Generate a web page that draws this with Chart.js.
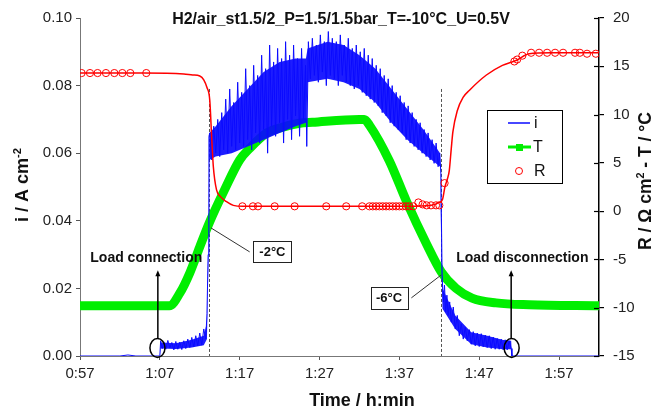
<!DOCTYPE html>
<html>
<head>
<meta charset="utf-8">
<script src="https://cdn.jsdelivr.net/npm/chart.js@4.4.1/dist/chart.umd.min.js"></script>
<style>
html,body{margin:0;padding:0;background:#fff;}
#wrap{width:654px;height:411px;position:relative;}
</style>
</head>
<body>
<div id="wrap"><canvas id="c" width="654" height="411"></canvas></div>
<script>
// ---------- DATA ----------
const chartTitle = 'H2/air_st1.5/2_P=1.5/1.5bar_T=-10°C_U=0.5V';
const xTicks = [57, 67, 77, 87, 97, 107, 117];
const xTickLabels = ['0:57', '1:07', '1:17', '1:27', '1:37', '1:47', '1:57'];
const yTicks = [0, 0.02, 0.04, 0.06, 0.08, 0.10];
const y2Ticks = [-15, -10, -5, 0, 5, 10, 15, 20];

// current density i (A cm-2) vs time (min): sampled noisy trace
const iTime = [
 57, 62, 63, 64, 66.9, 67.0, 67.1, 67.3, 67.5, 67.75,
 68.0, 68.25, 68.5, 68.75, 69.0, 69.25, 69.5, 69.75, 70.0, 70.25,
 70.5, 70.75, 71.0, 71.25, 71.5, 71.75, 72.0, 72.25, 72.5, 72.75,
 72.9, 73.05, 73.15, 73.25, 73.5, 73.75, 74.0, 74.25, 74.5, 74.75,
 75.0, 75.25, 75.5, 75.75, 76.0, 76.25, 76.5, 76.75, 77.0, 77.25,
 77.5, 77.75, 78.0, 78.25, 78.5, 78.75, 79.0, 79.25, 79.5, 79.75,
 80.0, 80.25, 80.5, 80.75, 81.0, 81.25, 81.5, 81.75, 82.0, 82.25,
 82.5, 82.75, 83.0, 83.25, 83.5, 83.75, 84.0, 84.25, 84.5, 84.75,
 85.0, 85.25, 85.4, 85.6, 85.85, 86.1, 86.35, 86.6, 86.85, 87.1,
 87.35, 87.6, 87.85, 88.1, 88.35, 88.6, 88.85, 89.1, 89.35, 89.6,
 89.85, 90.1, 90.35, 90.6, 90.85, 91.1, 91.35, 91.6, 91.85, 92.1,
 92.35, 92.6, 92.85, 93.1, 93.35, 93.6, 93.85, 94.1, 94.35, 94.6,
 94.85, 95.1, 95.35, 95.6, 95.85, 96.1, 96.35, 96.6, 96.85, 97.1,
 97.35, 97.6, 97.85, 98.1, 98.35, 98.6, 98.85, 99.1, 99.35, 99.6,
 99.85, 100.1, 100.35, 100.6, 100.85, 101.1, 101.35, 101.6, 101.85, 102.05,
 102.2, 102.35, 102.5, 102.65, 102.8, 102.95, 103.1, 103.3, 103.5, 103.75,
 104.0, 104.25, 104.5, 104.75, 105.0, 105.25, 105.5, 105.75, 106.0, 106.25,
 106.5, 106.75, 107.0, 107.25, 107.5, 107.75, 108.0, 108.25, 108.5, 108.75,
 109.0, 109.25, 109.5, 109.75, 110.0, 110.25, 110.5, 110.75, 111.0, 111.1,
 122
];
const iCurrent = [
 0, 0, 0.0003, 0, 0, 0.0002, 0.0045, 0.0022, 0.0042, 0.002,
 0.0046, 0.0024, 0.004, 0.0018, 0.0043, 0.002, 0.0041, 0.0019, 0.0045, 0.0022,
 0.005, 0.0025, 0.0055, 0.0027, 0.006, 0.003, 0.0068, 0.0032, 0.008, 0.005,
 0.0125, 0.03, 0.065, 0.066, 0.058, 0.068, 0.060, 0.070, 0.059, 0.072,
 0.061, 0.076, 0.060, 0.079, 0.062, 0.075, 0.061, 0.081, 0.063, 0.078,
 0.062, 0.085, 0.064, 0.080, 0.061, 0.086, 0.066, 0.083, 0.063, 0.089,
 0.067, 0.085, 0.060, 0.092, 0.068, 0.087, 0.065, 0.091, 0.069, 0.088,
 0.063, 0.093, 0.070, 0.089, 0.064, 0.092, 0.071, 0.088, 0.065, 0.091,
 0.070, 0.086, 0.062, 0.093, 0.082, 0.094, 0.083, 0.092, 0.081, 0.095,
 0.084, 0.093, 0.080, 0.096, 0.083, 0.094, 0.082, 0.093, 0.080, 0.095,
 0.083, 0.092, 0.081, 0.094, 0.080, 0.091, 0.079, 0.092, 0.080, 0.090,
 0.078, 0.091, 0.077, 0.089, 0.076, 0.088, 0.075, 0.086, 0.074, 0.085,
 0.072, 0.083, 0.071, 0.082, 0.069, 0.080, 0.068, 0.078, 0.067, 0.077,
 0.066, 0.075, 0.064, 0.074, 0.063, 0.072, 0.062, 0.070, 0.061, 0.069,
 0.060, 0.067, 0.059, 0.066, 0.058, 0.064, 0.057, 0.063, 0.056, 0.060,
 0.054, 0.024, 0.016, 0.021, 0.013, 0.018, 0.012, 0.016, 0.010, 0.0145,
 0.008, 0.012, 0.006, 0.0095, 0.005, 0.0085, 0.0045, 0.0078, 0.0035, 0.0072,
 0.003, 0.0068, 0.0028, 0.0066, 0.0027, 0.0062, 0.0025, 0.006, 0.0022, 0.0056,
 0.002, 0.0052, 0.002, 0.005, 0.0018, 0.0048, 0.0018, 0.0045, 0.0022, 0,
 0
];

// dense core of the noisy current signal (lower / upper envelope)
const envTime = [57, 67.0, 67.1, 69, 71, 72.5, 72.9, 73.1, 73.2, 74, 76, 78, 80, 82, 84, 85.3, 85.5, 88, 90, 92, 94, 96, 98, 100, 102.1, 102.25, 102.4, 104, 106, 108, 110, 111.0, 111.1, 122];
const envLow  = [0, 0, 0.0022, 0.0021, 0.0025, 0.0032, 0.005, 0.03, 0.058, 0.059, 0.060, 0.062, 0.064, 0.066, 0.068, 0.069, 0.081, 0.082, 0.081, 0.079, 0.075, 0.069, 0.064, 0.060, 0.056, 0.03, 0.014, 0.008, 0.0035, 0.0025, 0.002, 0.002, 0, 0];
const envHigh = [0, 0, 0.004, 0.0038, 0.0048, 0.006, 0.010, 0.04, 0.066, 0.068, 0.074, 0.079, 0.084, 0.087, 0.088, 0.088, 0.091, 0.093, 0.092, 0.089, 0.085, 0.079, 0.073, 0.067, 0.060, 0.04, 0.020, 0.012, 0.007, 0.006, 0.0047, 0.0045, 0, 0];

// temperature T (°C)
const tTime = [57, 68.2, 69.5, 70.75, 72, 73.25, 75.1, 77, 78.25, 80.4, 82.4, 84.5, 86.1, 92, 92.6, 93.25, 95.75, 97.9, 100.4, 102.25, 104.1, 106.1, 109.1, 113.25, 122];
const tVal  = [-9.8, -9.8, -8.5, -6.4, -3.7, -1.1, 2.2, 5.3, 6.5, 8.1, 8.7, 9.1, 9.2, 9.5, 9.5, 8.9, 5.2, 1.0, -3.4, -6.3, -8.0, -9.0, -9.5, -9.7, -9.8];

// resistance R (Ohm cm2) continuous trace
const rTime = [57, 65, 70, 71.1, 72, 72.5, 72.9, 73.25, 73.5, 73.7, 74.1, 74.6, 75.3, 76.2, 77.4, 90, 98, 101, 102, 102.4, 102.7, 103.0, 103.25, 103.5, 103.7, 104.25, 105.0, 105.75, 107.9, 109.9, 111.6, 113.25, 116, 122];
const rVal  = [14.3, 14.3, 14.2, 14.1, 14.0, 13.6, 12.8, 11.5, 7.5, 4.6, 2.2, 1.5, 1.0, 0.6, 0.5, 0.5, 0.5, 0.6, 0.9, 1.2, 2.5, 3.3, 4.2, 6.5, 8.2, 10.4, 11.8, 12.5, 14.1, 15.1, 15.6, 16.3, 16.4, 16.4];

// resistance R measured points (circles)
const rcTime = [57.2, 58.25, 59.2, 60.25, 61.3, 62.3, 63.3, 65.3,
 77.34, 78.66, 79.29, 81.38, 83.88, 87.84, 90.34, 92.34, 93.25, 93.66,
 94.09, 94.5, 94.91, 95.34, 95.75, 96.16, 96.59, 97.0, 97.41, 97.84,
 98.25, 98.75, 99.38, 99.91, 100.41, 100.96, 101.59, 102.0, 102.66,
 111.4, 111.75, 112.4, 113.5, 114.5, 115.5, 116.5, 117.5, 119.0, 119.6, 120.5, 121.6];
const rcVal = [14.3, 14.3, 14.3, 14.3, 14.3, 14.3, 14.3, 14.3,
 0.5, 0.5, 0.5, 0.5, 0.5, 0.5, 0.5, 0.5, 0.5, 0.5,
 0.5, 0.5, 0.5, 0.5, 0.5, 0.5, 0.5, 0.5, 0.5, 0.5,
 0.5, 0.5, 0.9, 0.7, 0.6, 0.6, 0.6, 0.6, 2.9,
 15.5, 15.7, 16.1, 16.4, 16.4, 16.4, 16.4, 16.4, 16.4, 16.4, 16.3, 16.3];

// dashed markers (min)
const dashTimes = [73.1, 102.25];
const dashTopI = 0.079;

const FONT = '"Liberation Sans", Arial, Helvetica, sans-serif';
const BLUE = '#0a0aff', GREEN = '#00ee00', RED = '#ff0000';

function pts(xs, ys) { return xs.map((v, k) => ({x: v, y: ys[k]})); }

function drawRich(ctx, parts, cx, cy, rot, size, weight, color) {
  ctx.save();
  ctx.translate(cx, cy);
  ctx.rotate(rot);
  ctx.fillStyle = color;
  ctx.textBaseline = 'alphabetic';
  ctx.textAlign = 'left';
  let total = 0;
  const ws = parts.map(p => {
    const s = p.sup ? size * 0.62 : size;
    ctx.font = weight + ' ' + s + 'px ' + FONT;
    const w = ctx.measureText(p.t).width;
    total += w;
    return w;
  });
  let xp = -total / 2;
  parts.forEach((p, k) => {
    const s = p.sup ? size * 0.62 : size;
    ctx.font = weight + ' ' + s + 'px ' + FONT;
    ctx.fillText(p.t, xp, size * 0.36 + (p.sup ? -size * 0.42 : 0));
    xp += ws[k];
  });
  ctx.restore();
}

const overlay = {
  id: 'overlay',
  beforeDatasetsDraw(chart) {
    const {ctx, scales: {x, y}} = chart;
    ctx.save();
    ctx.strokeStyle = '#555';
    ctx.lineWidth = 1;
    ctx.setLineDash([3, 2]);
    dashTimes.forEach(t => {
      const px = Math.round(x.getPixelForValue(t)) + 0.5;
      ctx.beginPath();
      ctx.moveTo(px, y.getPixelForValue(dashTopI));
      ctx.lineTo(px, y.getPixelForValue(0));
      ctx.stroke();
    });
    ctx.restore();
  },
  afterDraw(chart) {
    const {ctx, scales: {x, y, y2}} = chart;
    const P = (t, v) => [x.getPixelForValue(t), y.getPixelForValue(v)];
    ctx.save();
    // inner half of right-axis ticks
    ctx.strokeStyle = '#000';
    ctx.lineWidth = 1.2;
    y2Ticks.forEach(v => {
      const py = Math.round(y2.getPixelForValue(v)) + 0.5;
      ctx.beginPath();
      ctx.moveTo(x.right - 5, py);
      ctx.lineTo(x.right, py);
      ctx.stroke();
    });

    // title
    ctx.fillStyle = '#111';
    ctx.font = 'bold 16px ' + FONT;
    ctx.textAlign = 'center';
    ctx.textBaseline = 'middle';
    ctx.fillText(chartTitle, 341, 20);

    // axis titles
    drawRich(ctx, [{t: 'Time / h:min'}], 362, 400, 0, 18, 'bold', '#111');
    drawRich(ctx, [{t: 'i / A cm'}, {t: '-2', sup: true}], 22, 185, -Math.PI / 2, 18, 'bold', '#111');
    drawRich(ctx, [{t: 'R / \u03A9 cm'}, {t: '2', sup: true}, {t: ' - T / \u00B0C'}], 645, 181, -Math.PI / 2, 17.5, 'bold', '#111');

    // legend
    ctx.strokeStyle = '#000';
    ctx.lineWidth = 1;
    ctx.strokeRect(487.5, 110.5, 75, 73);
    ctx.lineWidth = 1.5;
    ctx.strokeStyle = BLUE;
    ctx.beginPath(); ctx.moveTo(508, 123); ctx.lineTo(530, 123); ctx.stroke();
    ctx.strokeStyle = GREEN; ctx.lineWidth = 3;
    ctx.beginPath(); ctx.moveTo(508, 147); ctx.lineTo(531, 147); ctx.stroke();
    ctx.fillStyle = GREEN; ctx.fillRect(516, 144, 7, 7);
    ctx.strokeStyle = RED; ctx.lineWidth = 1;
    ctx.beginPath(); ctx.arc(519, 171, 3.5, 0, Math.PI * 2); ctx.stroke();
    ctx.fillStyle = '#111';
    ctx.font = '16px ' + FONT;
    ctx.textAlign = 'left';
    ctx.textBaseline = 'middle';
    ctx.fillText('i', 534, 124);
    ctx.fillText('T', 533, 148);
    ctx.fillText('R', 534, 172);

    // load connection / disconnection annotations
    ctx.font = 'bold 14px ' + FONT;
    ctx.textAlign = 'center';
    [[65.3, 66.75, 66.7, 'Load connection'], [112.4, 111.0, 111.06, 'Load disconnection']].forEach(a => {
      const [tx, ty] = P(a[0], 0.029);
      ctx.fillStyle = '#111';
      ctx.fillText(a[3], tx, ty);
      const [ax, ay0] = P(a[1], 0.005);
      const ay1 = y.getPixelForValue(0.0254);
      ctx.strokeStyle = '#000'; ctx.lineWidth = 1.5;
      ctx.beginPath(); ctx.moveTo(ax, ay0); ctx.lineTo(ax, ay1 + 4); ctx.stroke();
      ctx.fillStyle = '#000';
      ctx.beginPath(); ctx.moveTo(ax, ay1); ctx.lineTo(ax - 2.5, ay1 + 6); ctx.lineTo(ax + 2.5, ay1 + 6); ctx.closePath(); ctx.fill();
      const [ex, ey] = P(a[2], 0.0024);
      ctx.beginPath(); ctx.ellipse(ex, ey, 7.5, 9.5, 0, 0, Math.PI * 2); ctx.stroke();
    });

    // temperature boxes
    [['-2\u00B0C', 81.1, 0.0309, 38, 21, 73.4, 0.0379, 78.25, 0.0308],
     ['-6\u00B0C', 95.7, 0.0172, 37, 22, 98.5, 0.0172, 102.25, 0.024]].forEach(b => {
      const [cx, cy] = P(b[1], b[2]);
      const [l1x, l1y] = P(b[5], b[6]);
      const [l2x, l2y] = P(b[7], b[8]);
      ctx.strokeStyle = '#333'; ctx.lineWidth = 1;
      ctx.beginPath(); ctx.moveTo(l1x, l1y); ctx.lineTo(l2x, l2y); ctx.stroke();
      ctx.fillStyle = '#fff';
      ctx.fillRect(Math.round(cx - b[3] / 2) + 0.5, Math.round(cy - b[4] / 2) + 0.5, b[3], b[4]);
      ctx.strokeStyle = '#222';
      ctx.strokeRect(Math.round(cx - b[3] / 2) + 0.5, Math.round(cy - b[4] / 2) + 0.5, b[3], b[4]);
      ctx.fillStyle = '#111';
      ctx.font = 'bold 13px ' + FONT;
      ctx.textAlign = 'center';
      ctx.textBaseline = 'middle';
      ctx.fillText(b[0], cx, cy + 1);
    });
    ctx.restore();
  }
};

Chart.defaults.font.family = FONT;

new Chart(document.getElementById('c'), {
  type: 'line',
  data: {
    datasets: [
      {label: 'R', data: pts(rcTime, rcVal), yAxisID: 'y2', showLine: false, pointRadius: 3.6, pointStyle: 'circle', pointBorderColor: RED, pointBackgroundColor: 'rgba(0,0,0,0)', pointBorderWidth: 1, borderColor: RED, order: 0},
      {label: 'R line', data: pts(rTime, rVal), yAxisID: 'y2', borderColor: RED, borderWidth: 1.5, pointRadius: 0, cubicInterpolationMode: 'monotone', order: 1},
      {label: 'i', data: pts(iTime, iCurrent), yAxisID: 'y', borderColor: BLUE, borderWidth: 1, pointRadius: 0, tension: 0, order: 2},
      {label: 'i band high', data: pts(envTime, envHigh), yAxisID: 'y', borderColor: 'rgba(0,0,0,0)', borderWidth: 0, pointRadius: 0, tension: 0, fill: 4, backgroundColor: 'rgba(10,10,255,0.92)', order: 3},
      {label: 'i band low', data: pts(envTime, envLow), yAxisID: 'y', borderColor: 'rgba(0,0,0,0)', borderWidth: 0, pointRadius: 0, tension: 0, fill: false, order: 4},
      {label: 'T', data: pts(tTime, tVal), yAxisID: 'y2', borderColor: GREEN, borderWidth: 9, pointRadius: 0, cubicInterpolationMode: 'monotone', borderCapStyle: 'butt', order: 5}
    ]
  },
  options: {
    responsive: false,
    animation: false,
    devicePixelRatio: 1,
    layout: {padding: {top: 18, left: 0, right: 0, bottom: 0}},
    plugins: {legend: {display: false}, tooltip: {enabled: false}, title: {display: false}, filler: {propagate: false}},
    scales: {
      x: {
        type: 'linear', position: 'bottom', min: 57, max: 122,
        afterBuildTicks: s => { s.ticks = xTicks.map(v => ({value: v})); },
        afterFit: s => { s.height = 55; },
        grid: {display: true, drawOnChartArea: false, drawTicks: true, tickLength: 4, color: '#555'},
        border: {display: true, color: '#777', width: 1},
        ticks: {color: '#222', font: {size: 15}, padding: 5, maxRotation: 0, autoSkip: false,
          callback: (v, k) => xTickLabels[k]}
      },
      y: {
        type: 'linear', position: 'left', min: 0, max: 0.1,
        afterBuildTicks: s => { s.ticks = yTicks.map(v => ({value: v})); },
        afterFit: s => { s.width = 80; },
        grid: {display: true, drawOnChartArea: false, drawTicks: true, tickLength: 4, color: '#555'},
        border: {display: true, color: '#777', width: 1},
        ticks: {color: '#222', font: {size: 15}, padding: 4, autoSkip: false,
          callback: v => v.toFixed(2)}
      },
      y2: {
        type: 'linear', position: 'right', min: -15, max: 20,
        afterBuildTicks: s => { s.ticks = y2Ticks.map(v => ({value: v})); },
        afterFit: s => { s.width = 55; },
        grid: {display: true, drawOnChartArea: false, drawTicks: true, tickLength: 5, color: '#000', lineWidth: 1.2},
        border: {display: true, color: '#000', width: 1.5},
        ticks: {color: '#222', font: {size: 15}, padding: 9, autoSkip: false,
          callback: v => String(v)}
      }
    }
  },
  plugins: [overlay]
});
</script>
</body>
</html>
